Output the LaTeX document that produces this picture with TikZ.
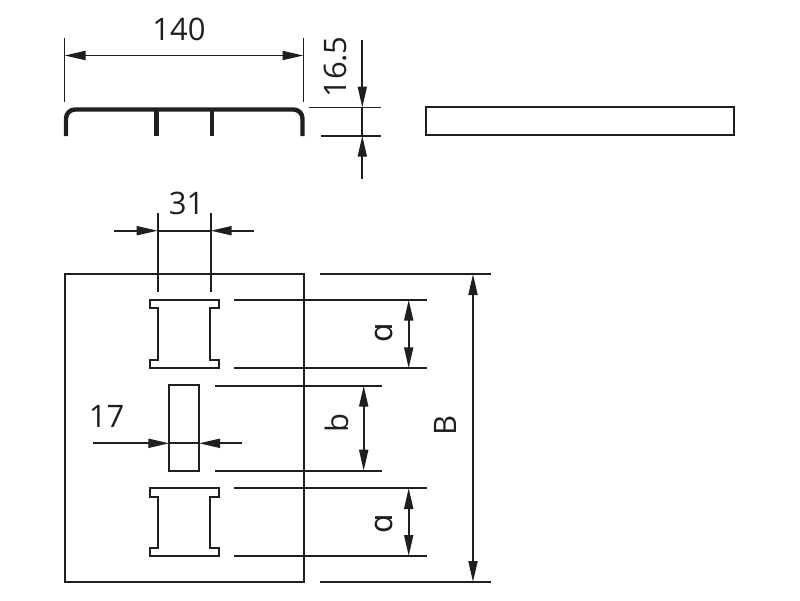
\documentclass[tikz,border=0pt]{standalone}
\usepackage{fontspec}
\setmainfont{Open Sans}
\newfontfamily\alphafont{DejaVu Sans}
\usetikzlibrary{arrows.meta}
\tikzset{
  ln/.style={line width=1.9pt,draw=black!88},
  dimr/.style={ln,-{Triangle[length=21pt,width=9pt]}},
  dimb/.style={ln,{Triangle[length=21pt,width=9pt]}-{Triangle[length=21pt,width=9pt]}},
  part/.style={line width=2pt,draw=black!88,line join=miter},
  prof/.style={line width=4.4pt,draw=black!88,line cap=butt},
  lbl/.style={inner sep=0pt,text=black!88,font=\fontsize{31}{31}\selectfont},
  lbr/.style={lbl,rotate=90}
}
\begin{document}
\begin{tikzpicture}[x=1pt,y=-1pt]
\useasboundingbox (0,0) rectangle (800,600);
% --- top profile
\coordinate (pl) at (66,136); \coordinate (pr) at (302.5,136);
\coordinate (pcl) at (66,109.5); \coordinate (pcr) at (302.5,109.5);
\draw[prof,rounded corners=9pt] (pl) -- (pcl) -- (pcr) -- (pr);
\coordinate (s1t) at (156.3,110); \coordinate (s1b) at (156.3,136);
\coordinate (s2t) at (212,110); \coordinate (s2b) at (212,136);
\draw[prof] (s1t) -- (s1b);
\draw[prof] (s2t) -- (s2b);
% --- 140
\coordinate (e1a) at (64.5,38); \coordinate (e1b) at (64.5,102);
\coordinate (e2a) at (303.5,38); \coordinate (e2b) at (303.5,102);
\coordinate (d1a) at (64.5,55.5); \coordinate (d1b) at (303.5,55.5);
\draw[ln] (e1a) -- (e1b);
\draw[ln] (e2a) -- (e2b);
\draw[dimb] (d1a) -- (d1b);
\node[lbl] (t140) at (179,29) {140};
% --- 16.5
\coordinate (h1a) at (308.7,107.5); \coordinate (h1b) at (380.7,107.5);
\coordinate (h2a) at (320.7,135.7); \coordinate (h2b) at (380.7,135.7);
\coordinate (v1a) at (362.3,40); \coordinate (v1b) at (362.3,107.5);
\coordinate (v2a) at (362.3,179); \coordinate (v2b) at (362.3,135.7);
\draw[ln] (h1a) -- (h1b);
\draw[ln] (h2a) -- (h2b);
\draw[ln] (v1b) -- (v2b);
\draw[dimr] (v1a) -- (v1b);
\draw[dimr] (v2a) -- (v2b);
\node[lbr] (t165) at (335,67) {16.5};
% --- side view
\node[part,draw,minimum width=308pt,minimum height=28.5pt,inner sep=0pt,outer sep=0pt] (side) at (580,121.2) {};
% --- plate
\node[part,draw,minimum width=239pt,minimum height=308pt,inner sep=0pt,outer sep=0pt] (plate) at (184,428) {};
% --- slots
\draw[part] (149.7,299.5) -- (218.7,299.5) -- (218.7,308.3) -- (210.3,308.3) -- (210.3,359.7) -- (218.7,359.7) -- (218.7,368.3) -- (149.7,368.3) -- (149.7,359.7) -- (158.3,359.7) -- (158.3,308.3) -- (149.7,308.3) -- cycle;
\draw[part] (149.7,487.7) -- (218.7,487.7) -- (218.7,496.7) -- (210.3,496.7) -- (210.3,547.7) -- (218.7,547.7) -- (218.7,556.3) -- (149.7,556.3) -- (149.7,547.7) -- (158.3,547.7) -- (158.3,496.7) -- (149.7,496.7) -- cycle;
\node[part,draw,minimum width=29.7pt,minimum height=85.4pt,inner sep=0pt,outer sep=0pt] (mid) at (184.2,428) {};
% --- 31
\coordinate (x1a) at (157.7,212.7); \coordinate (x1b) at (157.7,292);
\coordinate (x2a) at (210.7,212.7); \coordinate (x2b) at (210.7,292);
\coordinate (w1a) at (114,230.7); \coordinate (w1b) at (157.7,230.7);
\coordinate (w2a) at (254,230.7); \coordinate (w2b) at (210.7,230.7);
\draw[ln] (x1a) -- (x1b);
\draw[ln] (x2a) -- (x2b);
\draw[dimr] (w1a) -- (w1b);
\draw[dimr] (w2a) -- (w2b);
\draw[ln] (w1b) -- (w2b);
\node[lbl] (t31) at (186.7,203) {31};
% --- 17
\coordinate (q1a) at (93.3,443.3); \coordinate (q1b) at (169.3,443.3);
\coordinate (q2a) at (242,443.3); \coordinate (q2b) at (199,443.3);
\draw[dimr] (q1a) -- (q1b);
\draw[dimr] (q2a) -- (q2b);
\draw[ln] (q1b) -- (q2b);
\node[lbl] (t17) at (106.7,416) {17};
% --- B
\coordinate (B1a) at (320,274); \coordinate (B1b) at (491.3,274);
\coordinate (B2a) at (320,582); \coordinate (B2b) at (491.3,582);
\coordinate (Bt) at (473,274); \coordinate (Bb) at (473,582);
\draw[ln] (B1a) -- (B1b);
\draw[ln] (B2a) -- (B2b);
\draw[dimb] (Bt) -- (Bb);
\node[lbr] (tB) at (445,425.7) {B};
% --- upper a
\coordinate (a1a) at (234,299.7); \coordinate (a1b) at (427.3,299.7);
\coordinate (a2a) at (234,368.3); \coordinate (a2b) at (427.3,368.3);
\coordinate (at) at (408.7,299.7); \coordinate (ab) at (408.7,368.3);
\draw[ln] (a1a) -- (a1b);
\draw[ln] (a2a) -- (a2b);
\draw[dimb] (at) -- (ab);
\node[lbr] (ta1) at (384,333) {\alphafont ɑ};
% --- b
\coordinate (b1a) at (215,385.7); \coordinate (b1b) at (381.7,385.7);
\coordinate (b2a) at (215,470.7); \coordinate (b2b) at (381.7,470.7);
\coordinate (bt) at (363.7,385.7); \coordinate (bb) at (363.7,470.7);
\draw[ln] (b1a) -- (b1b);
\draw[ln] (b2a) -- (b2b);
\draw[dimb] (bt) -- (bb);
\node[lbr] (tb) at (336.7,423) {b};
% --- lower a
\coordinate (c1a) at (234,488); \coordinate (c1b) at (427.3,488);
\coordinate (c2a) at (234,556); \coordinate (c2b) at (427.3,556);
\coordinate (ct) at (408.7,488); \coordinate (cb) at (408.7,556);
\draw[ln] (c1a) -- (c1b);
\draw[ln] (c2a) -- (c2b);
\draw[dimb] (ct) -- (cb);
\node[lbr] (ta2) at (384,524) {\alphafont ɑ};
\end{tikzpicture}
\end{document}
